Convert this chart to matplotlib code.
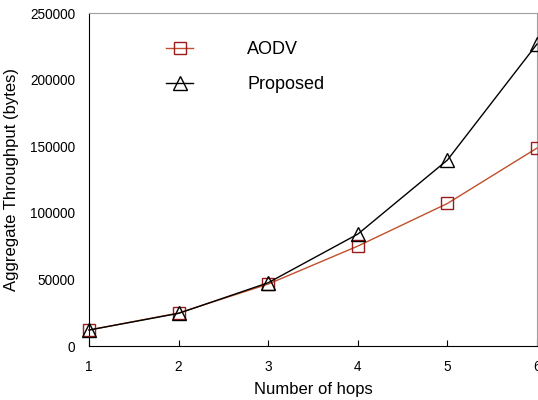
import matplotlib
matplotlib.use("Agg")
import matplotlib.pyplot as plt

plt.rcParams['font.family'] = ['Liberation Sans', 'DejaVu Sans']

hops = [1, 2, 3, 4, 5, 6]
aodv = [12000, 24800, 46500, 75000, 107000, 148600]
proposed = [12000, 24500, 47500, 84000, 139600, 226700]
yticks = [0, 50000, 100000, 150000, 200000, 250000]

fig = plt.figure(figsize=(5.38, 4.0), dpi=100)
ax = fig.add_axes([89/538, 54/400, 448/538, 333/400])

ax.plot(hops, aodv, color='#c0502a', lw=1.0, marker='s', markersize=9,
        markerfacecolor='none', markeredgecolor='#9b1c1c', markeredgewidth=1.0,
        label='AODV', clip_on=False, zorder=3)
ax.plot(hops, proposed, color='black', lw=1.0, marker='^', markersize=10,
        markerfacecolor='none', markeredgecolor='black', markeredgewidth=1.0,
        label='Proposed', clip_on=False, zorder=4)

ax.set_xlim(1, 6)
ax.set_ylim(0, 250000)
ax.set_xticks(hops)
ax.set_yticks(yticks)
ax.tick_params(axis='both', direction='in', labelsize=9.8, length=4)
ax.tick_params(axis='x', pad=10)
ax.tick_params(axis='y', length=0, pad=10)
ax.set_xlabel('Number of hops', fontsize=12, labelpad=6)
ax.set_ylabel('Aggregate Throughput (bytes)', fontsize=12, labelpad=8)

for s in ['top', 'right']:
    ax.spines[s].set_color('#a0a0a0')
for s in ['left', 'bottom']:
    ax.spines[s].set_color('black')

leg = ax.legend(loc='upper left', bbox_to_anchor=(77/448, 0.916), frameon=False,
                fontsize=13, handlelength=1.5, labelspacing=1.0, handletextpad=3.0,
                borderpad=0, borderaxespad=0)

fig.savefig('out.png', dpi=100)
